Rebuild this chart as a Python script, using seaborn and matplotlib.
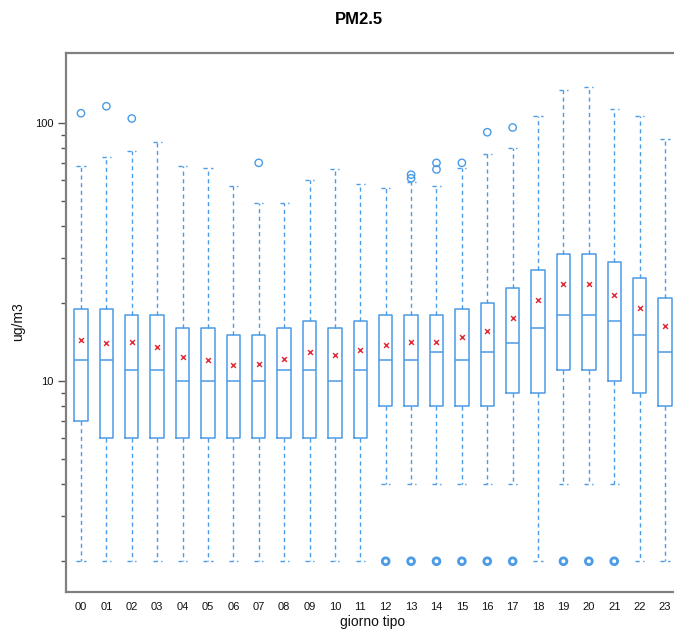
import numpy as np
import matplotlib
matplotlib.use("Agg")
import matplotlib.pyplot as plt
import matplotlib.ticker as mticker
import seaborn as sns
import pandas as pd

hours = ["00", "01", "02", "03", "04", "05", "06", "07", "08", "09", "10", "11",
         "12", "13", "14", "15", "16", "17", "18", "19", "20", "21", "22", "23"]
q1 = [7, 6, 6, 6, 6, 6, 6, 6, 6, 6, 6, 6,
      8, 8, 8, 8, 8, 9, 9, 11, 11, 10, 9, 8]
median = [12, 12, 11, 11, 10, 10, 10, 10, 11, 11, 10, 11,
          12, 12, 13, 12, 13, 14, 16, 18, 18, 17, 15, 13]
q3 = [19, 19, 18, 18, 16, 16, 15, 15, 16, 17, 16, 17,
      18, 18, 18, 19, 20, 23, 27, 31, 31, 29, 25, 21]
whisker_low = [2, 2, 2, 2, 2, 2, 2, 2, 2, 2, 2, 2,
               4, 4, 4, 4, 4, 4, 2, 4, 4, 4, 2, 2]
whisker_high = [68, 74, 78, 84, 68, 67, 57, 49, 49, 60, 66, 58,
                56, 59, 57, 67, 76, 80, 106, 134, 138, 113, 106, 87]
means = [14.4, 14.0, 14.2, 13.5, 12.4, 12.0, 11.5, 11.6, 12.2, 13.0, 12.6, 13.2,
         13.8, 14.1, 14.1, 14.8, 15.6, 17.5, 20.5, 23.7, 23.8, 21.5, 19.1, 16.3]
high_outliers = [[109], [116], [104], [], [], [], [], [70], [], [], [], [],
                 [], [61, 63], [66, 70], [70], [92], [96], [], [], [], [], [], []]
low_outliers = [[], [], [], [], [], [], [], [], [], [], [], [],
                [2], [2], [2], [2], [2], [2], [], [2], [2], [2], [], []]

title = "PM2.5"
xlabel = "giorno tipo"
ylabel = "ug/m3"

blue = "#4b9be6"
red = "#e0303c"

sns.set_style("white")
plt.rcParams["font.family"] = ["Liberation Sans", "DejaVu Sans"]

fig = plt.figure(figsize=(6.74, 6.31), dpi=100)
ax = fig.add_axes([66 / 674, 39 / 631, 614 / 674, 539 / 631])

positions = np.arange(len(hours))
stats = []
for i in range(len(hours)):
    stats.append(dict(med=median[i], q1=q1[i], q3=q3[i],
                      whislo=whisker_low[i], whishi=whisker_high[i],
                      fliers=[], label=hours[i]))

ax.bxp(stats, positions=positions, widths=0.53, capwidths=0.36,
       showfliers=False, patch_artist=False,
       boxprops=dict(color=blue, linewidth=1.1),
       medianprops=dict(color=blue, linewidth=1.1),
       whiskerprops=dict(color=blue, linewidth=1.0, linestyle=(0, (3, 2.5))),
       capprops=dict(color=blue, linewidth=1.0, linestyle=(0, (3, 2.5))))

hx, hy = [], []
for i, vals in enumerate(high_outliers):
    for v in vals:
        hx.append(i)
        hy.append(v)
lx, ly = [], []
for i, vals in enumerate(low_outliers):
    for v in vals:
        lx.append(i)
        ly.append(v)

sns.scatterplot(x=hx, y=hy, ax=ax, marker="o", s=28, facecolor="none",
                edgecolor=blue, linewidth=1.0, zorder=3)
sns.scatterplot(x=lx, y=ly, ax=ax, marker="o", s=24, facecolor="none",
                edgecolor=blue, linewidth=2.0, zorder=3)
sns.scatterplot(x=positions, y=means, ax=ax, marker="x", s=12, color=red,
                linewidth=1.1, zorder=4)

ax.set_yscale("log")
ax.set_ylim(1.52, 186.6)
ax.set_xlim(-0.59, 23.59)
ax.yaxis.set_major_locator(mticker.FixedLocator([10, 100]))
ax.yaxis.set_major_formatter(mticker.FixedFormatter(["10", "100"]))
ax.yaxis.set_minor_locator(mticker.LogLocator(base=10, subs=np.arange(2, 10)))
ax.yaxis.set_minor_formatter(mticker.NullFormatter())
ax.set_xticks(positions)
ax.set_xticklabels(hours)
ax.tick_params(axis="x", length=0, pad=7, labelsize=8, colors="#111111")
ax.tick_params(axis="y", which="major", length=6, width=1, direction="out",
               left=True, labelsize=8, colors="#555555", labelcolor="#111111", pad=3)
ax.tick_params(axis="y", which="minor", length=3.5, width=1, direction="out",
               left=True, colors="#555555")

for s in ["left", "bottom", "top", "right"]:
    ax.spines[s].set_color("#808080")
    ax.spines[s].set_linewidth(1.6)

fig.text(359 / 674, 1 - 19 / 631, title, ha="center", va="center",
         fontsize=12, fontweight="bold", color="black")
fig.text(373 / 674, 1 - 622 / 631, xlabel, ha="center", va="center",
         fontsize=10, color="#111111")
fig.text(18 / 674, 1 - 322 / 631, ylabel, ha="center", va="center",
         fontsize=10, rotation=90, color="#111111")

fig.savefig("out.png", dpi=100)
